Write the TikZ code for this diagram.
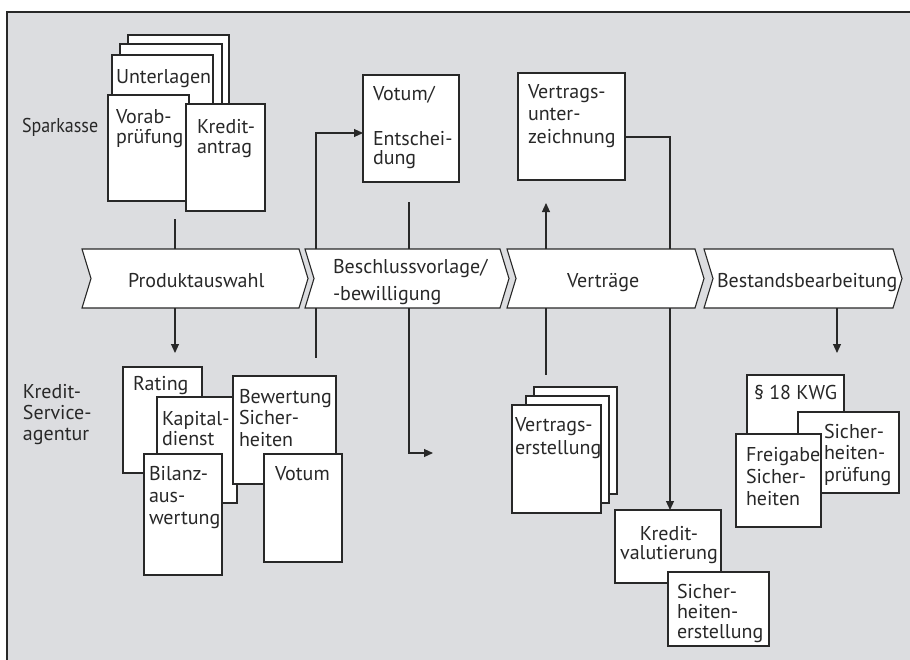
\documentclass[tikz,border=0pt]{standalone}
\usepackage{fontspec}
\setmainfont{PT Sans}
\newfontfamily\narrowfont[FakeStretch=0.9]{PT Sans}
\usetikzlibrary{arrows.meta}
\definecolor{bg}{RGB}{220,221,224}
\definecolor{ink}{RGB}{40,40,40}
\newcommand\pbox[5]{\node[paper, minimum width={(#4-#2)*1pt}, minimum height={(#5-#3)*1pt}] (#1) at (#2,#3) {};}
\newcommand\chev[3]{\draw[chev] (#2,249) -- (#3,249) -- ++(9,29.5) -- ++(-9,29.5) -- (#2,308) -- ++(9,-29.5) -- cycle;}
\begin{document}
\begin{tikzpicture}[x=1pt,y=-1pt,
  paper/.style={draw=ink, fill=white, line width=1.1pt, inner sep=0pt, outer sep=0pt, anchor=north west},
  chev/.style={draw=ink, fill=white, line width=1.1pt, line join=miter},
  txt/.style={inner sep=0pt, outer sep=0pt, anchor=north west, align=left, text=ink, font=\fontsize{20}{#1}\selectfont},
  txt/.default=20,
  ctxt/.style={txt=#1, anchor=north, align=center},
  conn/.style={draw=ink, line width=1.1pt},
  arr/.style={conn, -{Triangle[length=9pt,width=8pt]}}]
\newcommand\s{\rule{0pt}{16pt}}
\fill[white] (0,0) rectangle (910,659);
\useasboundingbox (0,0) rectangle (910,659);
\draw[draw=ink, line width=1.4pt, fill=bg] (7,12) rectangle (940,690);

% Sparkasse
\node[txt] (lsp) at (22,116) {\narrowfont\s Sparkasse};
\pbox{u3}{128}{35}{229}{150}
\pbox{u2}{120}{44}{222}{150}
\pbox{u1}{112}{55}{213}{150}
\pbox{vor}{108}{95}{189}{201}
\pbox{kra}{186}{104}{265}{211}
\node[txt] (tu1) at (116,67) {\s Unterlagen};
\node[txt] (tvor) at (116,107) {\s Vorab-\\prüfung};
\node[txt] (tkra) at (197,117) {\s Kredit-\\antrag};

\pbox{vot}{363}{75}{459}{182}
\node[txt] (tvot) at (373,84) {\s Votum/};
\node[txt=19] (tvot2) at (373,129) {\s Entschei-\\dung};
\pbox{vun}{518}{73}{625}{180}
\node[txt=22.5] (tvun) at (528,82.3) {\s Vertrags-\\unter-\\zeichnung};

% process band
\chev{c1}{82}{299}
\chev{c2}{305}{500}
\chev{c3}{507}{695}
\chev{c4}{704}{893}
\node[txt] (tc1) at (128,271) {\s Produktauswahl};
\node[txt=27.5] (tc2) at (333,257) {\s Beschlussvorlage/\\-bewilligung};
\node[txt] (tc3) at (567,271) {\s Verträge};
\node[txt] (tc4) at (717,271) {\s Bestandsbearbeitung};

% Kredit-Serviceagentur
\node[txt=21] (lksa) at (23,382) {\s Kredit-\\Service-\\agentur};
\pbox{rat}{123}{367}{202}{473}
\pbox{kap}{157}{397}{237}{503}
\pbox{bew}{233}{376}{336}{484}
\pbox{bil}{144}{454}{222}{575}
\pbox{vok}{264}{454}{342}{562}
\node[txt] (trat) at (133,374) {\s Rating};
\node[txt] (tkap) at (162,409) {\s Kapital-\\dienst};
\node[txt=21.5] (tbew) at (239,387) {\s Bewertung\\Sicher-\\heiten};
\node[txt=22] (tbil) at (149,464) {\s Bilanz-\\aus-\\wertung};
\node[txt] (tvok) at (275,464.7) {\s Votum};

\pbox{ve3}{534}{387}{617}{494}
\pbox{ve2}{526}{396}{609}{503}
\pbox{ve1}{512}{405}{601}{513}
\node[txt=23] (tve) at (515,415.7) {\s Vertrags-\\erstellung};

\pbox{kv}{615}{510}{721}{583}
\node[ctxt=19.5] (tkv) at (669,524) {\s Kredit-\\valutierung};
\pbox{se}{668}{572}{769}{646}
\node[txt] (tse) at (677,582.3) {\s Sicher-\\heiten-\\erstellung};

\pbox{kwg}{747}{375}{844}{470}
\node[txt] (tkwg) at (754,383.3) {\s \S\ 18 KWG};
\pbox{sp}{798}{412}{899}{493}
\node[txt=21.5] (tsp) at (824,422.3) {\s Sicher-\\heiten-\\prüfung};
\pbox{fs}{736}{434}{821}{527}
\node[txt=21.7] (tfs) at (746,445.7) {\s Freigabe\\Sicher-\\heiten};

% connector end points
\coordinate (a0) at (175,219);
\coordinate (c1n) at (175,249);
\coordinate (c1s) at (175,308);
\coordinate (a1) at (175,353);
\coordinate (c2n) at (316,249);
\coordinate (a2) at (316,133);
\coordinate (c2s) at (316,308);
\coordinate (a3) at (316,358);
\coordinate (a4) at (409,202);
\coordinate (c2nb) at (409,249);
\coordinate (c2sb) at (409,308);
\coordinate (a5) at (433,453);
\coordinate (c3n) at (546,249);
\coordinate (a6) at (546,203);
\coordinate (c3s) at (546,308);
\coordinate (a7) at (546,375);
\coordinate (c3nb) at (670,249);
\coordinate (c3sb) at (670,308);
\coordinate (c4s) at (837,308);
\coordinate (a8) at (837,353);

\draw[conn] (a0) -- (c1n);
\draw[arr] (c1s) -- (a1);
\draw[arr] (c2n) -- (a2) -- (vot.west |- a2);
\draw[conn] (c2s) -- (a3);
\draw[conn] (a4) -- (c2nb);
\draw[arr] (c2sb) |- (a5);
\draw[arr] (c3n) -- (a6);
\draw[conn] (c3s) -- (a7);
\draw[conn] (vun.east |- 0,137) -| (c3nb);
\draw[arr] (c3sb) -- (kv.north -| c3sb);
\draw[arr] (c4s) -- (a8);
\end{tikzpicture}
\end{document}
